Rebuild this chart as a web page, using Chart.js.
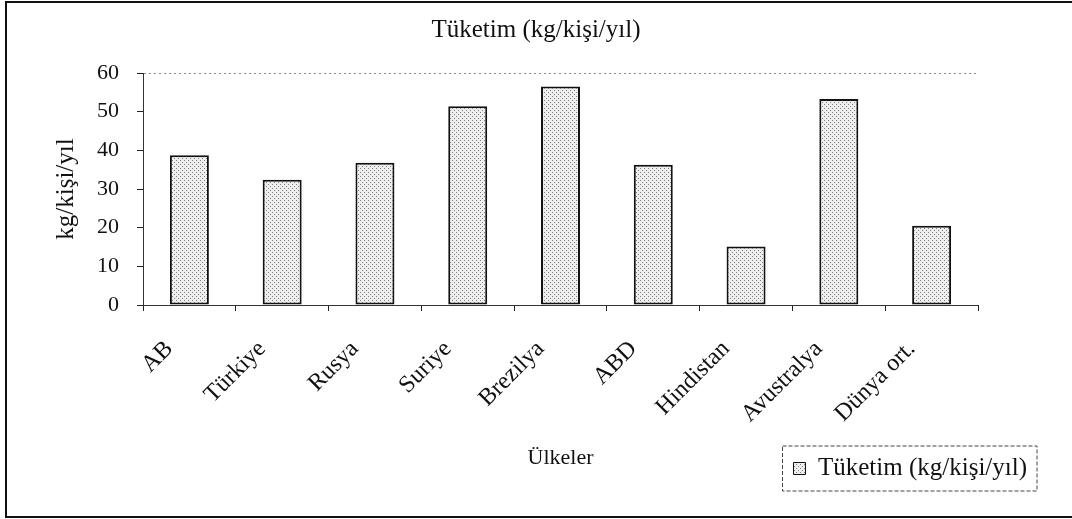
<!DOCTYPE html>
<html lang="tr">
<head>
<meta charset="utf-8">
<title>Tüketim (kg/kişi/yıl)</title>
<script src="https://cdn.jsdelivr.net/npm/chart.js@4/dist/chart.umd.min.js"></script>
<style>
    html, body { margin: 0; padding: 0; background: #fff; }
    #wrap { width: 1072px; height: 519px; position: relative; }
</style>
</head>
<body>
<div id="wrap"><canvas id="chart"></canvas></div>
<script>
// Chart data
const countries = ['AB', 'Türkiye', 'Rusya', 'Suriye', 'Brezilya', 'ABD', 'Hindistan', 'Avustralya', 'Dünya ort.'];
const consumption = [38.7, 32.4, 36.8, 51.4, 56.5, 36.3, 15.1, 53.3, 20.5];
const yTicks = [0, 10, 20, 30, 40, 50, 60];

const seriesName = 'Tüketim (kg/kişi/yıl)';
const serif = 'Liberation Serif, Times New Roman, serif';

// Stippled fill like the printed original
function stipple() {
    const c = document.createElement('canvas');
    c.width = 4;
    c.height = 4;
    const g = c.getContext('2d');
    g.fillStyle = '#eeeeee';
    g.fillRect(0, 0, 4, 4);
    g.fillStyle = '#7e7e7e';
    g.fillRect(0, 0, 1, 1);
    g.fillRect(2, 2, 1, 1);
    return g.createPattern(c, 'repeat');
}

// Outer frame, dashed box around the legend, legend pulled in from the right edge
const framePlugin = {
    id: 'frame',
    afterLayout(chart) {
        if (chart.legend) {
            chart.legend.left -= 35;
            chart.legend.right -= 35;
        }
    },
    beforeDraw(chart) {
        const ctx = chart.ctx;
        ctx.save();
        ctx.fillStyle = '#fff';
        ctx.fillRect(0, 0, chart.width, chart.height);
        ctx.restore();
    },
    afterDraw(chart) {
        const ctx = chart.ctx;
        ctx.save();
        ctx.strokeStyle = '#111';
        ctx.lineWidth = 2;
        ctx.strokeRect(6, 2, chart.width + 10, 515);

        const hb = chart.legend && chart.legend.legendHitBoxes[0];
        if (hb) {
            ctx.lineWidth = 1;
            ctx.strokeStyle = '#444';
            ctx.setLineDash([4, 2]);
            ctx.strokeRect(hb.left - 11, hb.top - 10, hb.width + 21, hb.height + 20);
        }
        ctx.restore();
    }
};

const fill = stipple();

new Chart(document.getElementById('chart'), {
    type: 'bar',
    data: {
        labels: countries,
        datasets: [{
            label: seriesName,
            data: consumption,
            backgroundColor: fill,
            borderColor: '#111',
            borderWidth: 2,
            borderSkipped: false,
            barPercentage: 0.42,
            categoryPercentage: 1.0
        }]
    },
    options: {
        responsive: true,
        maintainAspectRatio: false,
        animation: false,
        layout: { padding: { left: 0, right: 0, top: 0, bottom: 28 } },
        plugins: {
            tooltip: { enabled: false },
            title: {
                display: true,
                text: seriesName,
                color: '#111',
                font: { family: serif, size: 25, weight: 'normal' },
                padding: { top: 15, bottom: 28 }
            },
            legend: {
                position: 'bottom',
                align: 'end',
                labels: {
                    color: '#111',
                    font: { family: serif, size: 25 },
                    boxWidth: 12,
                    boxHeight: 12,
                    padding: 10,
                    generateLabels(chart) {
                        const items = Chart.defaults.plugins.legend.labels.generateLabels(chart);
                        items.forEach(it => { it.lineWidth = 1; });
                        return items;
                    }
                }
            }
        },
        scales: {
            x: {
                grid: {
                    offset: true,
                    drawOnChartArea: false,
                    color: '#222',
                    tickColor: '#222',
                    tickLength: 6
                },
                border: { color: '#333', width: 1 },
                ticks: {
                    color: '#111',
                    font: { family: serif, size: 24 },
                    minRotation: 45,
                    maxRotation: 45,
                    autoSkip: false,
                    padding: 24,
                    labelOffset: -20
                },
                title: {
                    display: true,
                    text: 'Ülkeler',
                    color: '#111',
                    font: { family: serif, size: 22 },
                    padding: { top: 0, bottom: -25 }
                },
                afterFit(scale) { scale.height = 141; }
            },
            y: {
                min: 0,
                max: 60,
                afterBuildTicks(scale) { scale.ticks = yTicks.map(v => ({ value: v })); },
                grid: {
                    drawOnChartArea: true,
                    color: ctx => (ctx.tick && ctx.tick.value === 60 ? '#8a8a8a' : 'rgba(0,0,0,0)'),
                    tickColor: '#222',
                    tickLength: 6,
                    tickBorderDash: []
                },
                border: { color: '#333', width: 1, dash: [2, 3] },
                ticks: {
                    color: '#111',
                    font: { family: serif, size: 22 },
                    padding: 18
                },
                title: {
                    display: true,
                    text: 'kg/kişi/yıl',
                    color: '#111',
                    font: { family: serif, size: 25 },
                    padding: { top: 51, bottom: 0 }
                },
                afterFit(scale) { scale.width = 143; }
            },
            yR: {
                position: 'right',
                display: true,
                grid: { display: false },
                border: { display: false },
                ticks: { display: false },
                afterFit(scale) { scale.width = 94; }
            }
        }
    },
    plugins: [framePlugin]
});
</script>
</body>
</html>
